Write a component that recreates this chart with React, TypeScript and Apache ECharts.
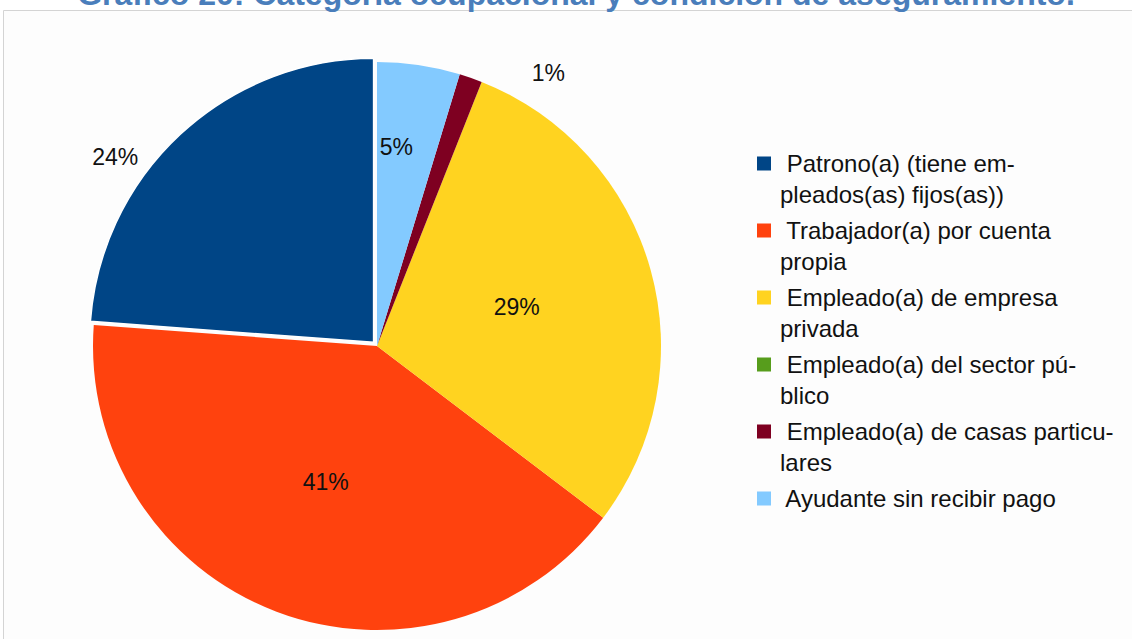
import React, { useEffect, useRef } from "react";
import * as echarts from "echarts";

const titleText = "Gráfico 20: Categoría ocupacional y condición de aseguramiento.";
const categories = [
  "Patrono(a) (tiene empleados(as) fijos(as))",
  "Trabajador(a) por cuenta propia",
  "Empleado(a) de empresa privada",
  "Empleado(a) del sector público",
  "Empleado(a) de casas particulares",
  "Ayudante sin recibir pago",
];
const legendLabels = [
  " Patrono(a) (tiene em-\npleados(as) fijos(as))",
  " Trabajador(a) por cuenta\npropia",
  " Empleado(a) de empresa\nprivada",
  " Empleado(a) del sector pú-\nblico",
  " Empleado(a) de casas particu-\nlares",
  " Ayudante sin recibir pago\n ",
];
const values = [23.8, 40.8, 29.3, 0, 1.3, 4.7];
const colors = ["#004586", "#ff420e", "#ffd320", "#579d1c", "#7e0021", "#83caff"];
const labelPositions = ["outside", "inside", "inside", "inside", "outside", "inside"];
const labelShifts = [[-37, 23], [0, 0], [0, 0], [0, 0], [56, -5], [-2, -56]];

export default function App() {
  const ref = useRef<HTMLDivElement>(null);
  useEffect(() => {
    document.body.style.margin = "0";
    const chart = echarts.init(ref.current!, null, { renderer: "svg" });
    const data = categories.map((name, i) => ({
      name,
      value: values[i],
      selected: i === 0,
      itemStyle: { color: colors[i] },
      select: i === 0 ? { itemStyle: { color: colors[i], borderColor: "#ffffff", borderWidth: 1.5 } } : undefined,
      label: {
        show: values[i] > 0,
        position: labelPositions[i],
      },
    }));
    chart.setOption({
      animation: false,
      backgroundColor: "#ffffff",
      graphic: [
        {
          type: "rect",
          shape: { x: 3.5, y: 10.5, width: 1300, height: 800 },
          style: { fill: "#fdfdfd", stroke: "#d4d4d4", lineWidth: 1 },
          z: -10,
          silent: true,
        },
        {
          type: "text",
          x: 576,
          y: -6,
          style: {
            text: titleText,
            fill: "#4a7ebb",
            font: "bold 32px 'Liberation Sans'",
            textAlign: "center",
            textVerticalAlign: "middle",
          },
        },
      ],
      legend: {
        orient: "vertical",
        left: 752,
        top: 143,
        itemWidth: 14,
        itemHeight: 45,
        itemGap: 5,
        icon: "path://M0,0h14v14h-14z M7,45l0.01,0",
        itemStyle: { borderWidth: 0 },
        selectedMode: false,
        formatter: (name: string) => legendLabels[categories.indexOf(name)],
        textStyle: {
          fontFamily: "Liberation Sans",
          fontSize: 24,
          lineHeight: 31,
          color: "#111111",
          padding: [0, 0, 0, 4],
        },
        data: categories,
      },
      series: [
        {
          type: "pie",
          center: [377, 346],
          radius: 284,
          startAngle: 90,
          clockwise: false,
          selectedMode: "single",
          selectedOffset: 5,
          avoidLabelOverlap: false,
          emphasis: { disabled: true },
          itemStyle: { borderWidth: 0 },
          label: {
            formatter: (p: any) => Math.round(p.percent) + "%",
            fontFamily: "Liberation Sans",
            fontSize: 23,
            color: "#111111",
          },
          labelLine: { show: false, length: 0, length2: 0 },
          labelLayout: (p: any) => {
            const s = labelShifts[p.dataIndex];
            return { dx: s[0], dy: s[1] };
          },
          data,
        },
      ],
    });
    return () => chart.dispose();
  }, []);
  return <div ref={ref} style={{ width: 1132, height: 639 }} />;
}
